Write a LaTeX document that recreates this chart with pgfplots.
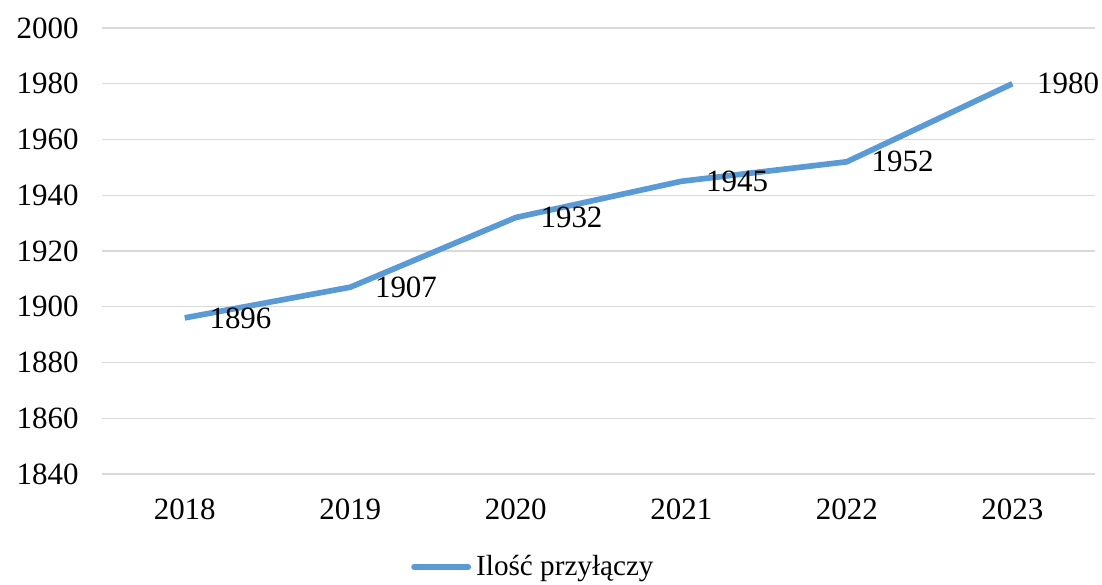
\documentclass[border=0pt]{standalone}
\usepackage{pgfplots}
\pgfplotsset{compat=1.18}
\usepackage{fontspec}
\setmainfont{Liberation Serif}
\definecolor{lineblue}{HTML}{5B9BD5}
\definecolor{gridgray}{HTML}{D9D9D9}
\begin{document}
\begin{tikzpicture}
\begin{axis}[
  scale only axis, width=384.8pt, height=172.8pt,
  xmin=-0.5, xmax=5.5, ymin=1840, ymax=2000,
  xtick={0,1,2,3,4,5},
  xticklabels={2018,2019,2020,2021,2022,2023},
  ytick={1840,1860,...,2000},
  axis line style={draw=none},
  major tick length=0pt,
  ymajorgrids, grid style={gridgray, line width=0.5pt},
  /pgf/number format/assume math mode=true,
  /pgf/number format/set thousands separator={},
  tick label style={font=\fontsize{12}{14}\selectfont},
  yticklabel style={xshift=-5.5pt},
  xticklabel style={yshift=-6pt},
  clip=false,
  legend style={draw=none, fill=none, at={(0.436,-0.2085)}, anchor=center,
    font=\fontsize{11.3}{13}\selectfont, inner sep=0pt,
    /tikz/every even column/.append style={column sep=0pt}},
  legend image code/.code={\draw[#1, line cap=round] (0pt,0pt) -- (21pt,0pt);},
  nodes near coords,
  every node near coord/.append style={anchor=west, inner sep=0pt, xshift=8.5pt,
    font=\fontsize{12}{14}\selectfont, text=black},
  point meta=explicit symbolic,
]
\addplot[lineblue, line width=2.2pt, mark=none] coordinates {
  (0,1896) [1896] (1,1907) [1907] (2,1932) [1932] (3,1945) [1945] (4,1952) [1952] (5,1980) [1980]
};
\addlegendentry{Ilość przyłączy}
\path (rel axis cs:-0.1027,-0.2444) rectangle (rel axis cs:1.0070,1.0628);
\end{axis}
\end{tikzpicture}
\end{document}
